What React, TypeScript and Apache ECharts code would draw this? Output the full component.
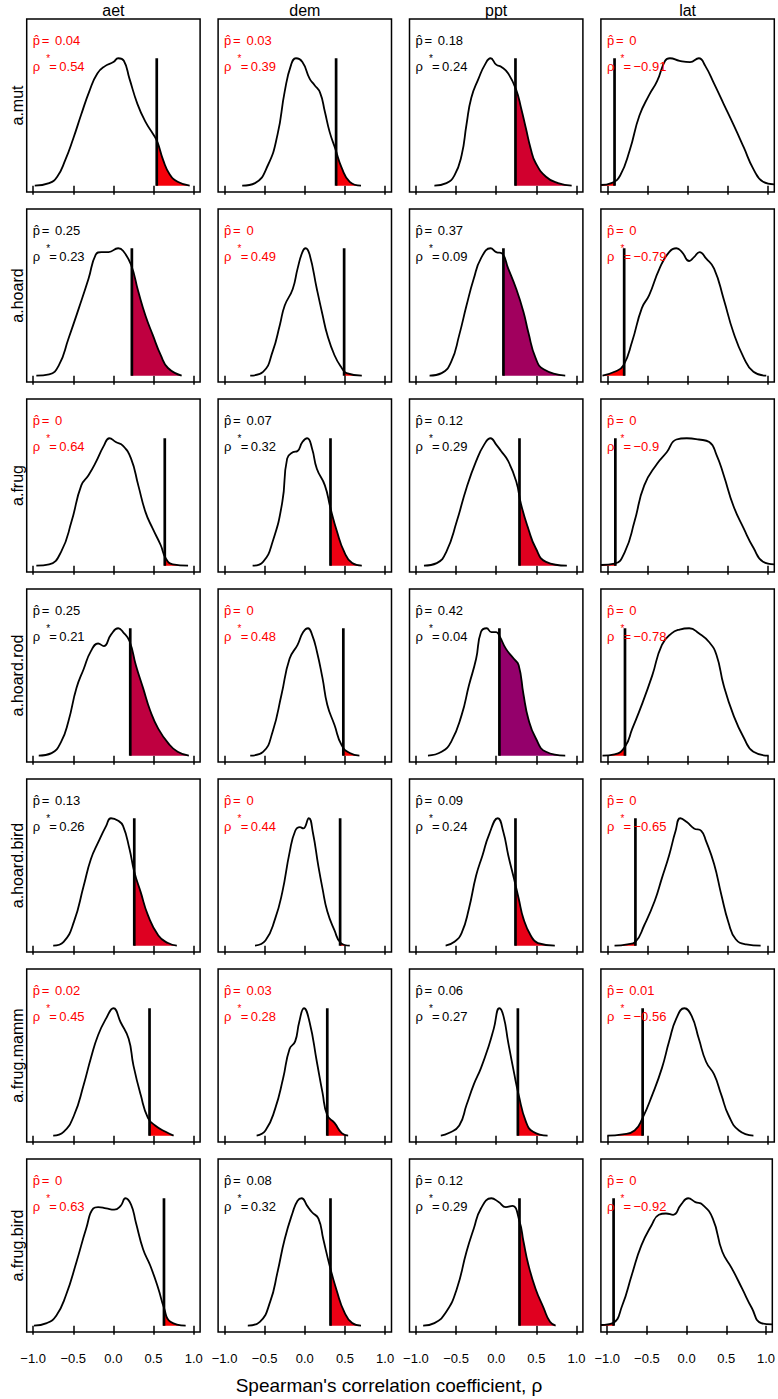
import React, { useEffect, useRef } from "react";
import * as echarts from "echarts";

const rowNames = ["a.mut", "a.hoard", "a.frug", "a.hoard.rod", "a.hoard.bird", "a.frug.mamm", "a.frug.bird"];
const colNames = ["aet", "dem", "ppt", "lat"];
const tickValues = [-1, -0.5, 0, 0.5, 1];
const axisTitle = "Spearman's correlation coefficient, \u03c1";

const pHat = [
  [0.04, 0.03, 0.18, 0],
  [0.25, 0, 0.37, 0],
  [0, 0.07, 0.12, 0],
  [0.25, 0, 0.42, 0],
  [0.13, 0, 0.09, 0],
  [0.02, 0.03, 0.06, 0.01],
  [0, 0.08, 0.12, 0],
];

const rhoStar = [
  [0.54, 0.39, 0.24, -0.91],
  [0.23, 0.49, 0.09, -0.79],
  [0.64, 0.32, 0.29, -0.9],
  [0.21, 0.48, 0.04, -0.78],
  [0.26, 0.44, 0.24, -0.65],
  [0.45, 0.28, 0.27, -0.56],
  [0.63, 0.32, 0.29, -0.92],
];

// density curves (x, relative density with peak = 1), one list per column: aet, dem, ppt, lat
const densAMut = [
  [[-0.98, 0], [-0.8, 0.02], [-0.7, 0.07], [-0.6, 0.2], [-0.5, 0.37], [-0.4, 0.56], [-0.3, 0.74], [-0.2, 0.88], [-0.1, 0.94], [0, 0.97], [0.06, 1.0], [0.13, 0.98], [0.2, 0.84], [0.3, 0.64], [0.4, 0.5], [0.5, 0.4], [0.55, 0.34], [0.62, 0.2], [0.7, 0.09], [0.8, 0.03], [0.95, 0]],
  [[-0.78, 0], [-0.62, 0.02], [-0.46, 0.16], [-0.34, 0.4], [-0.25, 0.74], [-0.17, 0.95], [-0.11, 1.0], [-0.03, 0.97], [0.06, 0.84], [0.12, 0.79], [0.19, 0.73], [0.25, 0.58], [0.31, 0.42], [0.38, 0.29], [0.46, 0.14], [0.56, 0.03], [0.7, 0]],
  [[-0.77, 0], [-0.62, 0.02], [-0.52, 0.08], [-0.43, 0.24], [-0.37, 0.48], [-0.31, 0.69], [-0.22, 0.84], [-0.14, 0.95], [-0.07, 1.0], [0, 0.95], [0.07, 0.93], [0.15, 0.88], [0.25, 0.75], [0.31, 0.61], [0.37, 0.45], [0.43, 0.29], [0.49, 0.18], [0.62, 0.07], [0.77, 0.02], [0.94, 0]],
  [[-1.08, 0.005], [-0.95, 0.02], [-0.84, 0.08], [-0.72, 0.28], [-0.6, 0.55], [-0.48, 0.71], [-0.38, 0.82], [-0.28, 0.98], [-0.22, 1.0], [-0.1, 0.98], [0.03, 0.97], [0.14, 1.0], [0.22, 0.94], [0.33, 0.8], [0.45, 0.64], [0.57, 0.48], [0.7, 0.3], [0.82, 0.13], [0.94, 0.03], [1.08, 0.01]],
];

const densAHoard = [
  [[-0.96, 0], [-0.8, 0.01], [-0.68, 0.08], [-0.56, 0.29], [-0.43, 0.53], [-0.31, 0.76], [-0.22, 0.95], [-0.15, 0.97], [-0.06, 0.97], [0.06, 1.0], [0.12, 0.98], [0.22, 0.87], [0.31, 0.66], [0.4, 0.47], [0.49, 0.32], [0.59, 0.16], [0.68, 0.06], [0.85, 0]],
  [[-0.68, 0], [-0.52, 0.03], [-0.4, 0.19], [-0.31, 0.4], [-0.25, 0.55], [-0.15, 0.68], [-0.09, 0.84], [-0.03, 0.97], [0.01, 1.0], [0.06, 0.95], [0.15, 0.68], [0.22, 0.48], [0.28, 0.32], [0.37, 0.16], [0.46, 0.06], [0.52, 0.02], [0.71, 0]],
  [[-0.83, 0], [-0.68, 0.02], [-0.56, 0.11], [-0.46, 0.32], [-0.37, 0.55], [-0.28, 0.76], [-0.19, 0.92], [-0.07, 1.0], [0, 0.97], [0.07, 0.96], [0.15, 0.84], [0.25, 0.68], [0.34, 0.5], [0.4, 0.34], [0.49, 0.14], [0.59, 0.05], [0.86, 0]],
  [[-1.06, 0], [-0.91, 0.03], [-0.8, 0.08], [-0.69, 0.27], [-0.57, 0.53], [-0.48, 0.63], [-0.35, 0.84], [-0.23, 0.97], [-0.14, 1.0], [-0.07, 0.97], [0.02, 0.9], [0.08, 0.93], [0.15, 0.97], [0.23, 0.92], [0.33, 0.84], [0.45, 0.6], [0.57, 0.34], [0.7, 0.14], [0.82, 0.03], [0.98, 0]],
];

const densAFrug = [
  [[-0.96, 0], [-0.8, 0.01], [-0.65, 0.11], [-0.52, 0.35], [-0.4, 0.63], [-0.31, 0.71], [-0.22, 0.81], [-0.12, 0.94], [-0.05, 1.0], [0.03, 0.97], [0.12, 0.94], [0.22, 0.84], [0.31, 0.63], [0.4, 0.42], [0.49, 0.29], [0.59, 0.16], [0.65, 0.06], [0.74, 0.01], [0.93, 0]],
  [[-0.65, 0], [-0.52, 0.03], [-0.4, 0.19], [-0.28, 0.5], [-0.22, 0.84], [-0.15, 0.89], [-0.09, 0.9], [-0.03, 0.97], [0.03, 1.0], [0.09, 0.92], [0.15, 0.76], [0.25, 0.63], [0.32, 0.45], [0.4, 0.27], [0.49, 0.11], [0.59, 0.02], [0.71, 0]],
  [[-0.9, 0], [-0.74, 0.02], [-0.62, 0.11], [-0.49, 0.35], [-0.37, 0.61], [-0.25, 0.82], [-0.15, 0.95], [-0.07, 1.0], [0, 0.95], [0.06, 0.9], [0.15, 0.82], [0.25, 0.66], [0.31, 0.48], [0.4, 0.29], [0.49, 0.14], [0.62, 0.03], [0.88, 0]],
  [[-1.08, 0.005], [-0.91, 0.015], [-0.78, 0.11], [-0.66, 0.35], [-0.54, 0.63], [-0.38, 0.8], [-0.26, 0.89], [-0.14, 0.99], [-0.01, 1.0], [0.14, 0.99], [0.27, 0.97], [0.36, 0.87], [0.45, 0.71], [0.57, 0.47], [0.7, 0.29], [0.82, 0.14], [0.94, 0.03], [1.08, 0.01]],
];

const densAHoardRod = [
  [[-0.93, 0], [-0.77, 0.02], [-0.65, 0.11], [-0.56, 0.27], [-0.46, 0.53], [-0.37, 0.68], [-0.28, 0.82], [-0.19, 0.88], [-0.12, 0.86], [-0.03, 0.95], [0.06, 1.0], [0.12, 0.97], [0.2, 0.9], [0.28, 0.71], [0.37, 0.53], [0.46, 0.35], [0.56, 0.21], [0.68, 0.1], [0.8, 0.03], [0.94, 0]],
  [[-0.68, 0], [-0.52, 0.03], [-0.4, 0.19], [-0.29, 0.48], [-0.19, 0.76], [-0.09, 0.87], [-0.02, 0.97], [0.04, 1.0], [0.09, 0.95], [0.15, 0.82], [0.22, 0.61], [0.28, 0.4], [0.37, 0.24], [0.46, 0.08], [0.56, 0.02], [0.68, 0]],
  [[-0.85, 0], [-0.68, 0.03], [-0.56, 0.11], [-0.43, 0.32], [-0.34, 0.55], [-0.25, 0.76], [-0.19, 0.97], [-0.12, 1.0], [-0.06, 0.97], [0, 0.97], [0.04, 0.94], [0.12, 0.84], [0.22, 0.76], [0.28, 0.71], [0.34, 0.48], [0.4, 0.29], [0.49, 0.14], [0.62, 0.03], [0.86, 0]],
  [[-1.06, 0], [-0.91, 0.01], [-0.78, 0.07], [-0.69, 0.21], [-0.57, 0.4], [-0.44, 0.63], [-0.32, 0.87], [-0.2, 0.96], [-0.1, 0.99], [0.02, 1.0], [0.14, 0.96], [0.27, 0.89], [0.36, 0.79], [0.45, 0.55], [0.57, 0.32], [0.7, 0.14], [0.82, 0.03], [1.01, 0]],
];

const densAHoardBird = [
  [[-0.75, 0], [-0.62, 0.03], [-0.49, 0.19], [-0.37, 0.47], [-0.28, 0.68], [-0.19, 0.81], [-0.09, 0.94], [-0.03, 1.0], [0.06, 0.98], [0.12, 0.94], [0.2, 0.76], [0.26, 0.58], [0.34, 0.42], [0.43, 0.24], [0.56, 0.08], [0.68, 0.02], [0.79, 0]],
  [[-0.62, 0], [-0.49, 0.04], [-0.37, 0.21], [-0.28, 0.42], [-0.19, 0.73], [-0.12, 0.9], [-0.06, 0.93], [-0.02, 0.92], [0.05, 1.0], [0.1, 0.89], [0.17, 0.62], [0.22, 0.45], [0.28, 0.27], [0.37, 0.12], [0.45, 0.02], [0.56, 0]],
  [[-0.63, 0], [-0.52, 0.03], [-0.43, 0.1], [-0.34, 0.29], [-0.25, 0.55], [-0.17, 0.71], [-0.09, 0.87], [0.02, 1.0], [0.09, 0.89], [0.15, 0.71], [0.22, 0.53], [0.28, 0.37], [0.34, 0.21], [0.43, 0.08], [0.52, 0.02], [0.73, 0]],
  [[-0.91, 0], [-0.75, 0.01], [-0.65, 0.03], [-0.54, 0.16], [-0.41, 0.35], [-0.32, 0.53], [-0.23, 0.71], [-0.15, 0.9], [-0.09, 1.0], [-0.01, 0.97], [0.08, 0.92], [0.17, 0.9], [0.23, 0.82], [0.33, 0.64], [0.42, 0.4], [0.51, 0.18], [0.6, 0.05], [0.73, 0.01], [0.91, 0]],
];

const densAFrugMamm = [
  [[-0.75, 0], [-0.62, 0.03], [-0.49, 0.16], [-0.37, 0.4], [-0.28, 0.61], [-0.19, 0.79], [-0.09, 0.92], [0, 1.0], [0.09, 0.89], [0.19, 0.76], [0.25, 0.55], [0.34, 0.32], [0.43, 0.14], [0.52, 0.08], [0.65, 0.03], [0.75, 0]],
  [[-0.6, 0], [-0.49, 0.04], [-0.37, 0.21], [-0.27, 0.45], [-0.19, 0.68], [-0.12, 0.74], [-0.07, 0.89], [-0.01, 1.0], [0.06, 0.89], [0.15, 0.58], [0.22, 0.34], [0.28, 0.16], [0.37, 0.1], [0.46, 0.02], [0.54, 0]],
  [[-0.69, 0], [-0.59, 0.02], [-0.46, 0.08], [-0.37, 0.24], [-0.28, 0.4], [-0.19, 0.53], [-0.09, 0.71], [-0.03, 0.84], [0.04, 1.0], [0.09, 0.94], [0.15, 0.73], [0.22, 0.5], [0.28, 0.32], [0.37, 0.11], [0.46, 0.03], [0.64, 0]],
  [[-1.0, 0], [-0.81, 0.01], [-0.66, 0.04], [-0.56, 0.14], [-0.44, 0.32], [-0.32, 0.53], [-0.23, 0.74], [-0.14, 0.92], [-0.04, 1.0], [0.05, 0.94], [0.14, 0.76], [0.23, 0.58], [0.33, 0.48], [0.42, 0.32], [0.51, 0.16], [0.64, 0.04], [0.82, 0]],
];

const densAFrugBird = [
  [[-0.99, 0], [-0.83, 0.02], [-0.71, 0.08], [-0.59, 0.24], [-0.46, 0.5], [-0.34, 0.76], [-0.25, 0.92], [-0.19, 0.93], [-0.09, 0.92], [0.01, 0.91], [0.09, 0.94], [0.15, 1.0], [0.22, 0.95], [0.28, 0.81], [0.37, 0.6], [0.46, 0.47], [0.56, 0.29], [0.63, 0.14], [0.71, 0.03], [0.9, 0]],
  [[-0.71, 0], [-0.56, 0.03], [-0.43, 0.19], [-0.34, 0.42], [-0.25, 0.68], [-0.15, 0.89], [-0.09, 0.98], [-0.04, 1.0], [0.03, 0.94], [0.09, 0.89], [0.17, 0.84], [0.23, 0.68], [0.31, 0.47], [0.4, 0.27], [0.49, 0.11], [0.59, 0.02], [0.7, 0]],
  [[-0.91, 0], [-0.77, 0.02], [-0.62, 0.11], [-0.49, 0.29], [-0.37, 0.58], [-0.28, 0.76], [-0.19, 0.92], [-0.06, 1.0], [0.03, 0.97], [0.12, 0.93], [0.2, 0.94], [0.29, 0.82], [0.34, 0.66], [0.4, 0.48], [0.49, 0.29], [0.59, 0.14], [0.67, 0.03], [0.74, 0]],
  [[-1.08, 0.005], [-0.93, 0.02], [-0.81, 0.16], [-0.69, 0.4], [-0.57, 0.63], [-0.44, 0.79], [-0.35, 0.87], [-0.26, 0.88], [-0.17, 0.87], [-0.07, 0.95], [0.02, 1.0], [0.11, 0.97], [0.2, 0.95], [0.33, 0.84], [0.45, 0.58], [0.57, 0.45], [0.7, 0.29], [0.82, 0.14], [0.94, 0.02], [1.08, 0.01]],
];

const densities = [densAMut, densAHoard, densAFrug, densAHoardRod, densAHoardBird, densAFrugMamm, densAFrugBird];

// layout
const W = 778;
const H = 1399;
const LEFT0 = 26.7;
const COL_STEP = 191.4;
const TOP0 = 19;
const ROW_STEP = 190;
const PW = 173.4;
const PH = 173;
const XMIN = -1.08;
const XMAX = 1.08;
const YMIN = -0.05;
const YMAX = 1.308;
const FONT = "'Liberation Sans', Arial, Helvetica, sans-serif";

const fmt = (v: number) => (v < 0 ? "\u2212" : "") + String(Math.abs(v));
const shade = (p: number) => `rgb(${Math.round(255 * (1 - p))},0,${Math.round(255 * p)})`;

function buildOption() {
  const grid: any[] = [];
  const xAxis: any[] = [];
  const yAxis: any[] = [];
  const series: any[] = [];
  const graphic: any[] = [];
  let gi = 0;

  colNames.forEach((name, c) => {
    graphic.push({
      type: "text", x: LEFT0 + COL_STEP * c + PW / 2, y: 10,
      style: { text: name, fontSize: 16, fontFamily: FONT, fill: "#000", textAlign: "center", textVerticalAlign: "middle" },
    });
  });

  rowNames.forEach((name, r) => {
    graphic.push({
      type: "text", x: 17, y: TOP0 + ROW_STEP * r + PH / 2, rotation: Math.PI / 2,
      style: { text: name, fontSize: 16, fontFamily: FONT, fill: "#000", textAlign: "center", textVerticalAlign: "middle" },
    });
    colNames.forEach((_, c) => {
      const L = LEFT0 + COL_STEP * c;
      const T = TOP0 + ROW_STEP * r;
      const dens = densities[r][c];
      const rho = rhoStar[r][c];
      const p = pHat[r][c];
      const peak = Math.max(...dens.map((d) => d[1]));

      grid.push({ left: L, top: T, width: PW, height: PH, show: true, borderColor: "#000", borderWidth: 1.5, backgroundColor: "transparent" });
      xAxis.push({
        type: "value", gridIndex: gi, min: XMIN, max: XMAX,
        axisLine: { show: false }, splitLine: { show: false },
        axisTick: { show: true, inside: false, length: 9, customValues: tickValues, lineStyle: { color: "#000", width: 1.5 } },
        axisLabel: {
          show: r === rowNames.length - 1, customValues: tickValues, margin: 20,
          formatter: (v: number) => (v < 0 ? "\u2212" : "") + Math.abs(v).toFixed(1),
          fontSize: 13, fontFamily: FONT, color: "#000",
        },
      });
      yAxis.push({ type: "value", gridIndex: gi, min: YMIN, max: YMAX, show: false });
      const mainIdx = gi;
      gi++;

      const lo = rho >= 0 ? rho : XMIN;
      const hi = rho >= 0 ? XMAX : rho;
      grid.push({ left: L + ((lo - XMIN) / (XMAX - XMIN)) * PW, top: T, width: ((hi - lo) / (XMAX - XMIN)) * PW, height: PH, show: false });
      xAxis.push({ type: "value", gridIndex: gi, min: lo, max: hi, show: false });
      yAxis.push({ type: "value", gridIndex: gi, min: YMIN, max: YMAX, show: false });
      series.push({
        type: "line", xAxisIndex: gi, yAxisIndex: gi, data: dens, smooth: true, symbol: "none", clip: true, silent: true,
        lineStyle: { width: 0.01, opacity: 0 }, areaStyle: { color: shade(p), opacity: 1, origin: "auto" }, z: 1,
      });
      gi++;

      series.push({
        type: "line", xAxisIndex: mainIdx, yAxisIndex: mainIdx, data: dens, smooth: true, symbol: "none", silent: true,
        lineStyle: { color: "#000", width: 1.8 }, z: 2,
      });
      series.push({
        type: "line", xAxisIndex: mainIdx, yAxisIndex: mainIdx, data: [[rho, 0], [rho, peak]], symbol: "none", silent: true,
        lineStyle: { color: "#000", width: 2.7 }, z: 3,
      });

      const col = p < 0.05 ? "#ff0000" : "#000000";
      const t = (text: string, x: number, y: number, size: number) => ({
        type: "text", x, y, z: 10,
        style: { text, fontSize: size, fontFamily: FONT, fill: col, textAlign: "left", textVerticalAlign: "middle" },
      });
      graphic.push(t("p\u0302", L + 6, T + 21, 13));
      graphic.push(t("=", L + 15, T + 21, 13));
      graphic.push(t(fmt(p), L + 28.3, T + 21, 13));
      graphic.push(t("\u03c1", L + 6, T + 47, 13));
      graphic.push(t("*", L + 19.5, T + 39, 10));
      graphic.push(t("=", L + 22.6, T + 47, 13));
      graphic.push(t(fmt(rho), L + 32.6, T + 47, 13));
    });
  });

  graphic.push({
    type: "text", x: 389, y: 1385,
    style: { text: axisTitle, fontSize: 19, fontFamily: FONT, fill: "#000", textAlign: "center", textVerticalAlign: "middle" },
  });

  return { animation: false, backgroundColor: "#fff", grid, xAxis, yAxis, series, graphic };
}

export default function App() {
  const ref = useRef<HTMLDivElement>(null);
  useEffect(() => {
    if (!ref.current) return;
    const chart = echarts.init(ref.current, undefined, { renderer: "svg", width: W, height: H });
    chart.setOption(buildOption() as any);
    return () => chart.dispose();
  }, []);
  return <div ref={ref} style={{ position: "absolute", left: 0, top: 0, width: W, height: H, background: "#fff" }} />;
}
